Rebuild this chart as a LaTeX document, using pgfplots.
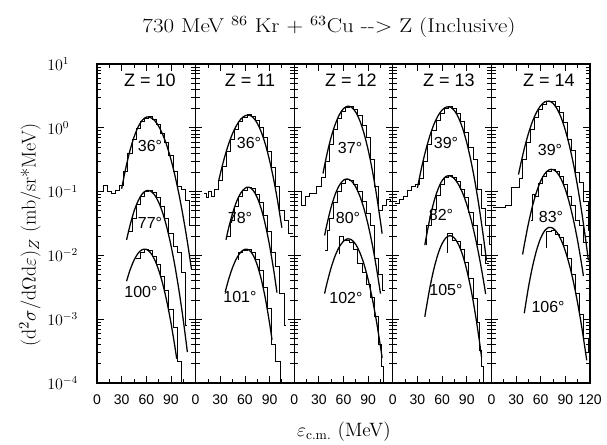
\documentclass[border=0pt]{standalone}
\usepackage{fontspec}
\usepackage{graphicx}
\usepackage{pgfplots}
\pgfplotsset{compat=1.18}
\newfontfamily\sansf{Liberation Sans}

\pgfplotsset{
  zpanel/.style={
    scale only axis, width=73.95pt, height=239.25pt, anchor=south west,
    xmin=0, xmax=120, ymin=1e-4, ymax=10,
    xtick={0,30,60,90}, xticklabels={0,30,60,90},
    minor xtick={15,45,75,105},
    ytick={1e-4,1e-3,0.01,0.1,1,10},
    minor ytick={2e-4,3e-4,4e-4,5e-4,6e-4,7e-4,8e-4,9e-4,
                 2e-3,3e-3,4e-3,5e-3,6e-3,7e-3,8e-3,9e-3,
                 0.02,0.03,0.04,0.05,0.06,0.07,0.08,0.09,
                 0.2,0.3,0.4,0.5,0.6,0.7,0.8,0.9,2,3,4,5,6,7,8,9},
    tick align=inside, tick pos=both,
    xticklabel pos=lower, yticklabel pos=left,
    major tick length=5pt, minor tick length=3.2pt,
    every tick/.append style={black, line width=0.6pt},
    axis line style={line width=1pt},
    xticklabel style={font=\sansf\fontsize{10.5}{12}\selectfont, yshift=-5pt},
  },
  znolab/.style={yticklabels={}},
  zhist/.style={const plot, black, line width=0.6pt, mark=none},
  zfit/.style={smooth, black, line width=0.95pt, mark=none},
}
\tikzset{
  zlab/.style={font=\sansf\fontsize{13.5}{15}\selectfont},
  alab/.style={font=\sansf\fontsize{12}{14}\selectfont},
}

\begin{document}
\begin{tikzpicture}
\path[use as bounding box] (0,0) rectangle (455.25pt,333pt);

% Z = 10
\begin{axis}[ymode=log, zpanel, at={(72.75pt,45.75pt)},
  yticklabel style={font=\fontsize{11.5}{13}\selectfont, anchor=west,
    inner sep=0pt, xshift=-37.5pt}]
\addplot[zhist] coordinates {(2.5,0.10)(7.5,0.125)(12.5,0.1)(17.5,0.095)(22.5,0.105)(27.5,0.125)(32.5,0.21)(37.5,0.40)(42.5,0.66)(47.5,0.98)(52.5,1.25)(57.5,1.42)(62.5,1.5)(67.5,1.35)(72.5,1.12)(77.5,0.82)(82.5,0.58)(87.5,0.37)(92.5,0.21)(97.5,0.12)(102.5,0.11)(107.5,0.072)(112.5,0.03)(117.5,0.03)};
\addplot[zfit] coordinates {(30,0.111)(35,0.233)(40,0.435)(45,0.711)(50,1.03)(55,1.31)(60,1.47)(65,1.45)(70,1.31)(75,1.06)(80,0.785)(85,0.525)(90,0.319)(95,0.175)(100,0.0877)(105,0.0396)(110,0.0163)(115,0.00605)};
\addplot[zhist] coordinates {(37.5,0.024)(42.5,0.038)(47.5,0.062)(52.5,0.085)(57.5,0.1)(62.5,0.105)(67.5,0.097)(72.5,0.08)(77.5,0.058)(82.5,0.038)(87.5,0.022)(92.5,0.014)(97.5,0.011)(102.5,0.0055)(107.5,0.0008)(110,0.0008)};
\addplot[zfit] coordinates {(36,0.0175)(40,0.029)(45,0.0488)(50,0.0714)(55,0.092)(60,0.1035)(65,0.102)(70,0.0891)(75,0.0682)(80,0.0461)(85,0.0274)(90,0.0144)(95,0.00664)(100,0.0027)(105,0.000968)(110,0.000306)};
\addplot[zhist] coordinates {(47.5,0.009)(52.5,0.011)(57.5,0.0125)(62.5,0.012)(67.5,0.0098)(72.5,0.0072)(77.5,0.0047)(82.5,0.0028)(87.5,0.0014)(92.5,0.00075)(97.5,0.00022)(103,0.00022)(103,0.00001)};
\addplot[zfit] coordinates {(36,0.00395)(40,0.00579)(45,0.00839)(50,0.0108)(55,0.0123)(60,0.01245)(65,0.0111)(70,0.00865)(75,0.00593)(80,0.00357)(85,0.00189)(90,0.000877)(95,0.000357)(97,0.00024)};
\node[zlab] at (axis cs:64.5,5.6) {Z = 10};
\node[alab] at (axis cs:64.5,0.52) {36°};
\node[alab] at (axis cs:64.5,0.032) {77°};
\node[alab] at (axis cs:53.5,0.0027) {100°};
\end{axis}

% Z = 11
\begin{axis}[ymode=log, zpanel, znolab, at={(146.7pt,45.75pt)}]
\addplot[zhist] coordinates {(10,0.095)(13,0.08)(16,0.1)(19,0.085)(22.5,0.11)(27.5,0.15)(32.5,0.25)(37.5,0.43)(42.5,0.67)(47.5,0.95)(52.5,1.25)(57.5,1.45)(62.5,1.6)(67.5,1.5)(72.5,1.3)(77.5,1.0)(82.5,0.7)(87.5,0.43)(92.5,0.24)(97.5,0.12)(102.5,0.05)(107.5,0.035)(112.5,0.022)(118,0.022)};
\addplot[zfit] coordinates {(28,0.146)(30,0.188)(35,0.337)(40,0.548)(45,0.815)(50,1.10)(55,1.37)(60,1.54)(65,1.58)(70,1.45)(75,1.18)(80,0.853)(85,0.546)(90,0.309)(95,0.155)(100,0.069)(105,0.0272)};
\addplot[zhist] coordinates {(37.5,0.02)(42.5,0.036)(47.5,0.058)(52.5,0.085)(57.5,0.105)(62.5,0.115)(67.5,0.112)(72.5,0.092)(77.5,0.068)(82.5,0.042)(87.5,0.024)(92.5,0.011)(97.5,0.0068)(102.5,0.0025)(107.5,0.0008)(110,0.0008)};
\addplot[zfit] coordinates {(37,0.0176)(40,0.0262)(45,0.0459)(50,0.0706)(55,0.0951)(60,0.1127)(65,0.1172)(70,0.105)(75,0.0807)(80,0.053)(85,0.0299)(90,0.01435)(95,0.00593)(99,0.00261)};
\addplot[zhist] coordinates {(52.5,0.0085)(52.5,0.011)(57.5,0.012)(62.5,0.0125)(67.5,0.0112)(72.5,0.0088)(77.5,0.0058)(82.5,0.0032)(87.5,0.0015)(92.5,0.0004)(97.5,0.00022)(103,0.00022)(103,0.00001)};
\addplot[zfit] coordinates {(36,0.00266)(40,0.00413)(45,0.00647)(50,0.00904)(55,0.01125)(60,0.01247)(65,0.0122)(70,0.0101)(75,0.00708)(80,0.00417)(85,0.00208)(90,0.000871)(93,0.000476)};
\node[zlab] at (axis cs:66.2,5.6) {Z = 11};
\node[alab] at (axis cs:65,0.578) {36°};
\node[alab] at (axis cs:54,0.0385) {78°};
\node[alab] at (axis cs:54,0.00223) {101°};
\end{axis}

% Z = 12
\begin{axis}[ymode=log, zpanel, znolab, at={(220.65pt,45.75pt)}]
\addplot[zhist] coordinates {(5,0.1)(9,0.06)(13.5,0.085)(19,0.093)(27,0.12)(32.5,0.17)(37.5,0.3)(42.5,0.55)(47.5,0.95)(52.5,1.4)(57.5,1.8)(62.5,2.1)(67.5,2.2)(72.5,1.95)(77.5,1.55)(82.5,1.1)(87.5,0.7)(92.5,0.32)(97.5,0.12)(102.5,0.05)(107.5,0.06)(112.5,0.075)(117.5,0.07)(120,0.07)};
\addplot[zfit] coordinates {(35,0.192)(40,0.394)(45,0.716)(50,1.14)(55,1.61)(60,2.0)(65,2.18)(70,2.09)(75,1.75)(80,1.28)(85,0.813)(90,0.452)(95,0.218)(100,0.092)(105,0.0339)(107,0.0219)};
\addplot[zhist] coordinates {(37.5,0.012)(40,0.025)(42.5,0.038)(47.5,0.068)(52.5,0.1)(57.5,0.135)(62.5,0.155)(67.5,0.15)(72.5,0.13)(77.5,0.1)(82.5,0.07)(87.5,0.045)(92.5,0.03)(97.5,0.009)(102.5,0.005)(107.5,0.0028)(110,0.0028)};
\addplot[zfit] coordinates {(37,0.0205)(40,0.0314)(45,0.0575)(50,0.0914)(55,0.126)(60,0.151)(65,0.158)(70,0.145)(75,0.118)(80,0.0843)(85,0.0535)(90,0.030)(95,0.0149)(100,0.0065)(105,0.00252)};
\addplot[zhist] coordinates {(55,0.0105)(55,0.02)(60,0.0175)(62.5,0.0172)(67.5,0.016)(72.5,0.0125)(77.5,0.0075)(82.5,0.0055)(87.5,0.0035)(92.5,0.0022)(97.5,0.0011)(102.5,0.0004)(106,0.00018)(108.5,0.00018)(108.5,0.00001)};
\addplot[zfit] coordinates {(37,0.00252)(40,0.00372)(45,0.00646)(50,0.00998)(55,0.0137)(60,0.0167)(65,0.0182)(70,0.0175)(75,0.0148)(80,0.011)(85,0.00723)(90,0.00418)(95,0.00212)(100,0.000948)(105,0.000373)(107,0.000248)};
\node[zlab] at (axis cs:69,5.6) {Z = 12};
\node[alab] at (axis cs:68,0.482) {37°};
\node[alab] at (axis cs:65.5,0.0385) {80°};
\node[alab] at (axis cs:63,0.00215) {102°};
\end{axis}

% Z = 13
\begin{axis}[ymode=log, zpanel, znolab, at={(294.6pt,45.75pt)}]
\addplot[zhist] coordinates {(2.5,0.065)(7.5,0.075)(12.5,0.085)(17.5,0.105)(22.5,0.12)(27.5,0.13)(32.5,0.16)(37.5,0.3)(42.5,0.55)(47.5,0.9)(52.5,1.3)(57.5,1.7)(62.5,2.0)(67.5,2.15)(72.5,2.05)(77.5,1.7)(82.5,1.25)(87.5,0.85)(92.5,0.5)(97.5,0.32)(102.5,0.11)(107.5,0.055)(112.5,0.03)(117.5,0.015)(120,0.015)};
\addplot[zfit] coordinates {(30,0.114)(35,0.237)(40,0.441)(45,0.741)(50,1.13)(55,1.54)(60,1.90)(65,2.11)(70,2.11)(75,1.86)(80,1.44)(85,0.979)(90,0.586)(95,0.308)(100,0.143)(105,0.0579)(110,0.0207)(114,0.0083)};
\addplot[zhist] coordinates {(40.5,0.0145)(40.5,0.03)(42.5,0.03)(47.5,0.052)(52.5,0.088)(57.5,0.13)(62.5,0.165)(67.5,0.178)(72.5,0.17)(77.5,0.145)(82.5,0.11)(87.5,0.08)(92.5,0.048)(97.5,0.03)(102.5,0.015)(107.5,0.01)(112.5,0.0075)(117.5,0.0075)};
\addplot[zfit] coordinates {(39,0.0145)(40,0.0173)(45,0.0372)(50,0.0689)(55,0.109)(60,0.149)(65,0.174)(70,0.176)(75,0.159)(80,0.129)(85,0.0948)(90,0.0628)(95,0.0375)(100,0.0202)(105,0.00979)(110,0.00429)(113,0.00248)};
\addplot[zhist] coordinates {(66.5,0.011)(66.5,0.0225)(70,0.0225)(72.5,0.0175)(77.5,0.0165)(82.5,0.0125)(87.5,0.0078)(92.5,0.0043)(97.5,0.0021)(102.5,0.0009)(105,0.00032)(107.5,0.00018)(110,0.00018)(110,0.00001)};
\addplot[zfit] coordinates {(39,0.00109)(40,0.00132)(45,0.00307)(50,0.00614)(55,0.0105)(60,0.0153)(65,0.0191)(70,0.0204)(75,0.0187)(80,0.0148)(85,0.0101)(90,0.00593)(95,0.00301)(100,0.00131)(105,0.000493)(108,0.000256)};
\node[zlab] at (axis cs:68.4,5.6) {Z = 13};
\node[alab] at (axis cs:64.7,0.578) {39°};
\node[alab] at (axis cs:58.7,0.043) {82°};
\node[alab] at (axis cs:64.7,0.00287) {105°};
\end{axis}

% Z = 14
\begin{axis}[ymode=log, zpanel, znolab, at={(368.55pt,45.75pt)},
  xtick={0,30,60,90,120}, xticklabels={0,30,60,90,120}]
\addplot[zhist] coordinates {(2.5,0.057)(10,0.057)(17.5,0.06)(24,0.118)(34,0.16)(37.5,0.32)(42.5,0.58)(47.5,0.95)(52.5,1.45)(57.5,1.95)(62.5,2.35)(67.5,2.6)(72.5,2.55)(77.5,2.2)(82.5,1.75)(87.5,1.2)(92.5,0.65)(97.5,0.45)(102.5,0.2)(107.5,0.14)(112.5,0.07)(117.5,0.025)(120,0.025)};
\addplot[zfit] coordinates {(33,0.185)(35,0.246)(40,0.47)(45,0.807)(50,1.26)(55,1.76)(60,2.23)(65,2.55)(70,2.62)(75,2.42)(80,1.97)(85,1.43)(90,0.914)(95,0.521)(100,0.264)(105,0.118)(110,0.047)(115,0.0166)(118,0.00838)};
\addplot[zhist] coordinates {(48.5,0.035)(50,0.09)(52.5,0.085)(57.5,0.135)(62.5,0.175)(67.5,0.21)(72.5,0.225)(77.5,0.21)(82.5,0.175)(87.5,0.13)(92.5,0.085)(97.5,0.06)(102.5,0.035)(107.5,0.03)(112.5,0.016)(117.5,0.016)};
\addplot[zfit] coordinates {(38,0.01035)(40,0.01455)(45,0.0313)(50,0.0593)(55,0.0993)(60,0.147)(65,0.191)(70,0.219)(75,0.222)(80,0.198)(85,0.156)(90,0.108)(95,0.0658)(100,0.0353)(105,0.0168)(110,0.00698)(112,0.00475)};
\addplot[zhist] coordinates {(67,0.013)(67,0.024)(72.5,0.025)(77.5,0.021)(82.5,0.019)(87.5,0.0145)(92.5,0.009)(97.5,0.005)(102.5,0.0025)(107.5,0.0012)(112.5,0.0005)(117.5,0.0003)(120,0.0003)};
\addplot[zfit] coordinates {(40,0.00124)(45,0.00312)(50,0.00665)(55,0.0121)(60,0.0187)(65,0.0245)(70,0.0275)(75,0.0266)(80,0.0228)(85,0.0173)(90,0.0117)(95,0.00703)(100,0.00375)(105,0.00177)(110,0.000746)(115,0.000279)(116,0.000226)};
\node[zlab] at (axis cs:70,5.6) {Z = 14};
\node[alab] at (axis cs:71.3,0.449) {39°};
\node[alab] at (axis cs:72.5,0.04) {83°};
\node[alab] at (axis cs:69,0.00155) {106°};
\end{axis}

\node[font=\fontsize{15}{18}\selectfont] at (246.75pt,312.75pt)
  {\scalebox{1.15}[1]{730 MeV \textsuperscript{86} Kr + \textsuperscript{63}Cu -{}-> Z (Inclusive)}};
\node[rotate=90, font=\fontsize{15}{18}\selectfont] at (22.5pt,156.75pt)
  {(d$^2\sigma$/d$\Omega$d$\varepsilon$)$_Z$ (mb/sr*MeV)};
\node[font=\fontsize{14.5}{17}\selectfont] at (258pt,9pt)
  {$\varepsilon_{\mathrm{c.m.}}$ (MeV)};
\end{tikzpicture}
\end{document}
